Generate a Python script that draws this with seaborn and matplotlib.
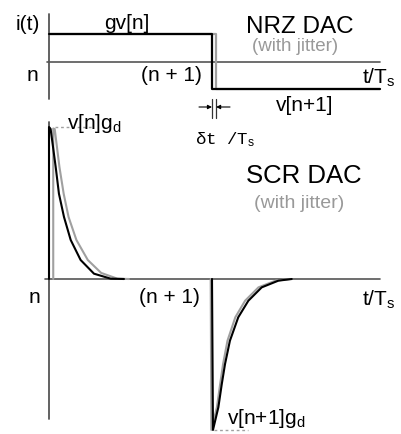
import matplotlib
matplotlib.use("Agg")
import matplotlib.pyplot as plt
import seaborn as sns
import numpy as np
import pandas as pd

sns.set_theme(style="white")
plt.rcParams['font.family'] = ['Liberation Sans', 'DejaVu Sans']
plt.rcParams['mathtext.fontset'] = 'custom'
plt.rcParams['mathtext.rm'] = 'Liberation Sans'
plt.rcParams['mathtext.it'] = 'Liberation Sans'

# ---------------- data ----------------
# NRZ DAC levels (gv[n], v[n+1]) and timing (in units of Ts)
nrz_levels = [1.0, -1.0]
nrz_edges = [0.0, 1.0]          # n, n+1
nrz_end = 2.03
nrz_jitter = 0.025               # delta t / Ts

# SCR DAC pulses (t relative to pulse start, normalized amplitude)
# pulse at n : nominal (black) and jittered (gray)
scr1_t = [0.0, 0.0, 0.010, 0.041, 0.061, 0.092, 0.133, 0.194, 0.276, 0.379, 0.460]
scr1_v = [0.0, 1.0, 0.987, 0.737, 0.561, 0.408, 0.257, 0.125, 0.035, 0.002, 0.0]
scr1j_t = [0.026, 0.026, 0.035, 0.064, 0.090, 0.120, 0.168, 0.238, 0.320, 0.420, 0.490]
scr1j_v = [0.0, 0.99, 0.987, 0.737, 0.561, 0.408, 0.257, 0.125, 0.040, 0.002, 0.0]
# pulse at n+1 : nominal (black) and jittered (gray)
scr2_t = [0.0, 0.006, 0.039, 0.060, 0.080, 0.110, 0.161, 0.223, 0.305, 0.407, 0.489]
scr2_v = [0.0, -0.993, -0.844, -0.691, -0.559, -0.406, -0.252, -0.143, -0.055, -0.011, 0.0]
scr2j_t = [-0.008, -0.004, 0.030, 0.050, 0.068, 0.095, 0.143, 0.203, 0.285, 0.390, 0.480]
scr2j_v = [0.0, -0.993, -0.844, -0.691, -0.559, -0.406, -0.252, -0.143, -0.055, -0.011, 0.0]

W, H = 402, 435
fig = plt.figure(figsize=(W / 100, H / 100), dpi=100)

# pixel mapping helpers (layout only)
X0, XS = 49.0, 163.0
xlim = (-X0 / XS, (W - X0) / XS)

ax_top = fig.add_axes([0, 0, 1, 1])
ax_bot = fig.add_axes([0, 0, 1, 1])
TZ, TS = 62.5, 27.5
BZ, BS = 280.0, 152.0
ax_top.set_xlim(*xlim); ax_top.set_ylim(-(H - TZ) / TS, TZ / TS)
ax_bot.set_xlim(*xlim); ax_bot.set_ylim(-(H - BZ) / BS, BZ / BS)
for a in (ax_top, ax_bot):
    a.axis('off')
    a.patch.set_visible(False)

def py_top(p):
    return (TZ - p) / TS

def py_bot(p):
    return (BZ - p) / BS

def px(p):
    return (p - X0) / XS

AX_C = '#555555'
GRAY = '#a0a0a0'

# ---------------- NRZ panel ----------------
ax_top.plot([0, 0], [py_top(15), py_top(100)], color=AX_C, lw=1.3)
ax_top.plot([px(47), nrz_end], [0, 0], color=AX_C, lw=1.2)

nrz_gray = pd.DataFrame({
    't': [nrz_edges[0], nrz_edges[1] + nrz_jitter, nrz_edges[1] + nrz_jitter, nrz_end],
    'v': [nrz_levels[0], nrz_levels[0], nrz_levels[1], nrz_levels[1]]})
nrz_black = pd.DataFrame({
    't': [nrz_edges[0], nrz_edges[1], nrz_edges[1], nrz_end],
    'v': [nrz_levels[0], nrz_levels[0], nrz_levels[1], nrz_levels[1]]})
sns.lineplot(data=nrz_gray, x='t', y='v', sort=False, estimator=None, ax=ax_top,
             color=GRAY, lw=1.6)
sns.lineplot(data=nrz_black, x='t', y='v', sort=False, estimator=None, ax=ax_top,
             color='black', lw=1.6)

# delta t marker
for xx in (nrz_edges[1], nrz_edges[1] + nrz_jitter):
    ax_top.plot([xx, xx], [py_top(100), py_top(119)], color='#333333', lw=0.9)
ay = py_top(108)
ax_top.annotate('', xy=(nrz_edges[1], ay), xytext=(px(199), ay),
                arrowprops=dict(arrowstyle='-|>', lw=0.8, color='black', mutation_scale=6,
                                shrinkA=0, shrinkB=0))
ax_top.annotate('', xy=(nrz_edges[1] + nrz_jitter, ay), xytext=(px(230), ay),
                arrowprops=dict(arrowstyle='-|>', lw=0.8, color='black', mutation_scale=6,
                                shrinkA=0, shrinkB=0))

# ---------------- SCR panel ----------------
ax_bot.plot([0, 0], [py_bot(123), py_bot(420)], color=AX_C, lw=1.3)
ax_bot.plot([px(45), nrz_end], [0, 0], color=AX_C, lw=1.2)

for start, bt, bv, gt, gv in ((nrz_edges[0], scr1_t, scr1_v, scr1j_t, scr1j_v),
                              (nrz_edges[1], scr2_t, scr2_v, scr2j_t, scr2j_v)):
    g = pd.DataFrame({'t': [start + x for x in gt], 'v': gv})
    b = pd.DataFrame({'t': [start + x for x in bt], 'v': bv})
    sns.lineplot(data=g, x='t', y='v', sort=False, estimator=None, ax=ax_bot,
                 color=GRAY, lw=1.5)
    sns.lineplot(data=b, x='t', y='v', sort=False, estimator=None, ax=ax_bot,
                 color='black', lw=1.5)

# dashed peak markers
ax_bot.plot([px(55), px(92)], [max(scr1_v), max(scr1_v)], color=GRAY, lw=1.0,
            ls=(0, (2, 2)))
ax_bot.plot([px(214), px(248)], [min(scr2_v), min(scr2_v)], color=GRAY, lw=1.0,
            ls=(0, (2, 2)))

# ---------------- text ----------------
def txt(x, y, s, size=15, color='black', **kw):
    fig.text(x / W, 1 - y / H, s, fontsize=size, color=color, ha='left',
             va='baseline', **kw)

txt(16, 30, 'i(t)')
txt(104, 29, 'gv[n]')
txt(246, 33, 'NRZ DAC', size=17.5)
txt(252, 51, '(with jitter)', size=13.5, color='#999999')
txt(27, 81, 'n')
txt(141, 81, '(n + 1)')
txt(362, 84, r't/T$_\mathrm{s}$')
txt(276, 111, 'v[n+1]')
txt(195, 144, r'δt /T$_\mathrm{s}$', size=12.5, family=['Liberation Mono', 'DejaVu Sans Mono'])
txt(67, 129, r'v[n]g$_\mathrm{d}$')
txt(246, 183, 'SCR DAC', size=18.5)
txt(254, 208, '(with jitter)', size=14, color='#999999')
txt(29, 303, 'n')
txt(139, 303, '(n + 1)')
txt(362, 306, r't/T$_\mathrm{s}$')
txt(227, 424, r'v[n+1]g$_\mathrm{d}$')

fig.savefig('out.png', dpi=100)
